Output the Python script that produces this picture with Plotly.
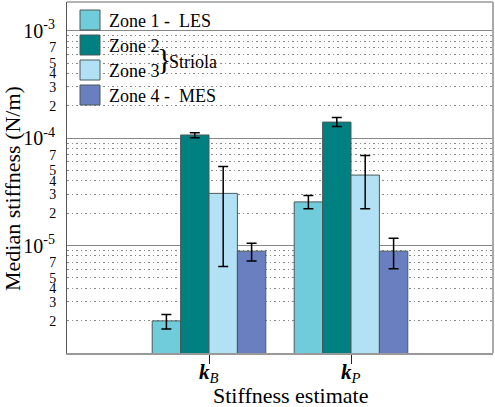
import plotly.graph_objects as go

# ---- data ----
estimates = ["kB", "kP"]
estimate_labels = ["<b><i>k</i></b><sub><i>B</i></sub>", "<b><i>k</i></b><sub><i>P</i></sub>"]
zones = ["Zone 1 -  LES", "Zone 2", "Zone 3", "Zone 4 -  MES"]
zone_colors = ["#70CBDB", "#008080", "#B2E1F6", "#6A7FC0"]

# median stiffness (N/m) per zone, for kB and kP
zone1 = [1.99e-6, 2.55e-5]
zone2 = [1.07e-4, 1.41e-4]
zone3 = [3.06e-5, 4.53e-5]
zone4 = [8.87e-6, 8.87e-6]
# error-bar upper / lower limits
zone1_hi = [2.28e-6, 2.92e-5]
zone1_lo = [1.67e-6, 2.20e-5]
zone2_hi = [1.12e-4, 1.56e-4]
zone2_lo = [1.01e-4, 1.28e-4]
zone3_hi = [5.44e-5, 6.90e-5]
zone3_lo = [6.37e-6, 2.20e-5]
zone4_hi = [1.05e-5, 1.17e-5]
zone4_lo = [7.20e-6, 6.07e-6]

values = [zone1, zone2, zone3, zone4]
highs = [zone1_hi, zone2_hi, zone3_hi, zone4_hi]
lows = [zone1_lo, zone2_lo, zone3_lo, zone4_lo]

decades = [1e-5, 1e-4, 1e-3]
decade_text = ["10<sup>-5</sup>", "10<sup>-4</sup>", "10<sup>-3</sup>"]
minor_decades = [1e-6, 1e-5, 1e-4, 1e-3]
minor_labeled = [2, 3, 4, 5, 7]

FONT = "Liberation Serif"
W, H = 495, 407
ML, MR, MT, MB = 67, 2, 2, 54
PW, PH = W - ML - MR, H - MT - MB

fig = go.Figure()
xs = list(range(len(estimates)))
for name, col, v, hi, lo in zip(zones, zone_colors, values, highs, lows):
    fig.add_trace(go.Bar(
        x=xs, y=v, name=name, marker=dict(color=col, line=dict(color="#4a5a5a", width=1)),
        error_y=dict(type="data", symmetric=False,
                     array=[h - a for h, a in zip(hi, v)],
                     arrayminus=[a - l for l, a in zip(lo, v)],
                     color="black", thickness=1.5, width=5),
        showlegend=False,
    ))
# invisible helper trace so the label-only overlay axis is drawn
fig.add_trace(go.Scatter(x=[xs[0]], y=[zone1[0]], yaxis="y2", mode="markers",
                         marker=dict(opacity=0), showlegend=False, hoverinfo="skip"))

minor_all = [m * d for d in minor_decades for m in range(2, 10)]
lab_vals = [m * d for d in minor_decades for m in minor_labeled]
lab_text = [str(m) for d in minor_decades for m in minor_labeled]

fig.update_layout(
    width=W, height=H,
    margin=dict(l=ML, r=MR, t=MT, b=MB),
    paper_bgcolor="white", plot_bgcolor="white",
    barmode="group", bargap=0.2, bargroupgap=0,
    font=dict(family=FONT, color="black"),
    xaxis=dict(range=[-1, 2], tickvals=xs, ticktext=["" for _ in xs],
               ticks="outside", ticklen=9, tickcolor="#222", tickwidth=1,
               showgrid=False, zeroline=False,
               showline=True, linecolor="#999", linewidth=2, automargin=False),
    yaxis=dict(type="log", range=[-6, -2.733], automargin=False,
               tickvals=decades, ticktext=decade_text, tickfont=dict(size=20),
               ticks="outside", ticklen=7, tickcolor="rgba(0,0,0,0)",
               showgrid=True, gridcolor="#888", gridwidth=1,
               minor=dict(tickmode="array", tickvals=minor_all, showgrid=True,
                          griddash="1.5px,3px", gridcolor="#888", gridwidth=1, ticks=""),
               showline=True, linecolor="#555", linewidth=1, zeroline=False),
    yaxis2=dict(type="log", range=[-6, -2.733], overlaying="y", side="left",
                automargin=False,
                tickvals=lab_vals, ticktext=lab_text,
                tickfont=dict(size=14), ticks="outside", ticklen=7,
                tickcolor="rgba(0,0,0,0)", showgrid=False, showline=False, zeroline=False),
)

# frame top and right
fig.add_shape(type="line", xref="paper", yref="paper", x0=0, x1=1, y0=1, y1=1,
              line=dict(color="#666", width=1))
fig.add_shape(type="line", xref="paper", yref="paper", x0=1, x1=1, y0=0, y1=1,
              line=dict(color="#aaa", width=2))

def px(x):
    return (x - ML) / PW

def py(y):
    return (H - MB - y) / PH

# category labels
for xv, lab in zip(xs, estimate_labels):
    fig.add_annotation(x=xv, xref="x", y=py(373), yref="paper", text=lab,
                       showarrow=False, xanchor="center", yanchor="middle",
                       font=dict(size=21))
# axis titles
fig.add_annotation(x=px(290), xref="paper", y=py(395), yref="paper",
                   text="Stiffness estimate", showarrow=False,
                   xanchor="center", yanchor="middle", font=dict(size=22))
fig.add_annotation(x=px(13), xref="paper", y=py(189), yref="paper",
                   text="Median stiffness (N/m)", showarrow=False, textangle=-90,
                   xanchor="center", yanchor="middle", font=dict(size=22))

# custom legend with large swatches
for i, (name, col) in enumerate(zip(zones, zone_colors)):
    top = 10 + 25 * i
    fig.add_shape(type="rect", xref="paper", yref="paper",
                  x0=px(80), x1=px(100), y0=py(top + 20), y1=py(top),
                  fillcolor=col, line=dict(color="#4a5a5a", width=1))
    fig.add_annotation(xref="paper", yref="paper", x=px(107), y=py(top + 11),
                       text=name, showarrow=False, xanchor="left", yanchor="middle",
                       font=dict(size=18))
fig.add_annotation(xref="paper", yref="paper", x=px(155), y=py(58),
                   text="}", showarrow=False, xanchor="left", yanchor="middle",
                   font=dict(size=30))
fig.add_annotation(xref="paper", yref="paper", x=px(167), y=py(62),
                   text="Striola", showarrow=False, xanchor="left", yanchor="middle",
                   font=dict(size=18))

fig.write_html("out.html", config={"displayModeBar": False},
               post_script="document.body.style.margin='0px';")
